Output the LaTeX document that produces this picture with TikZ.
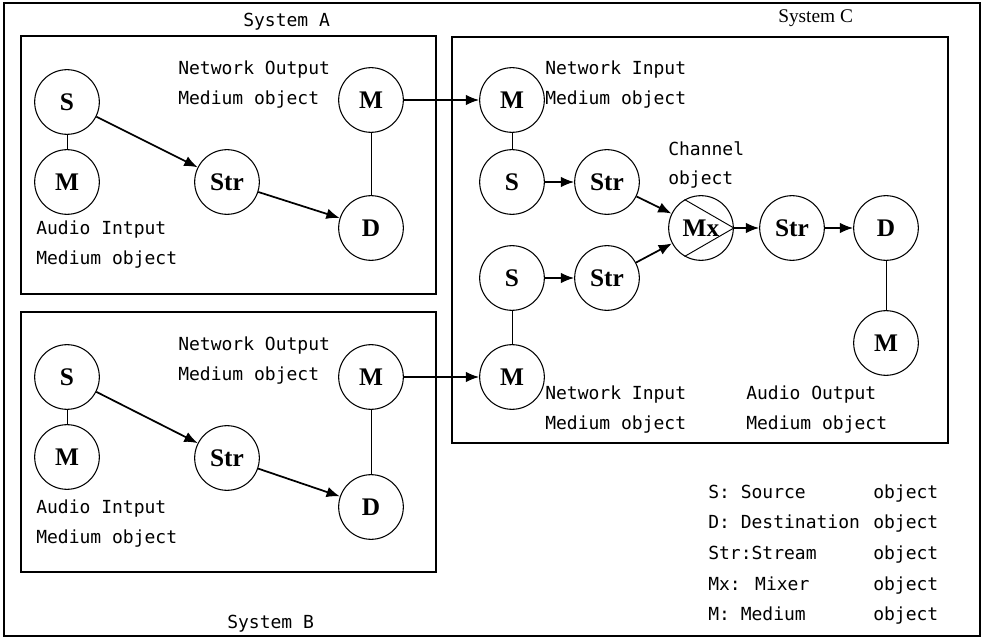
\documentclass[tikz,border=0pt]{standalone}
\usepackage{fontspec}
\setmainfont{Liberation Serif}
\newfontfamily\labelfont{DejaVu Sans Mono}
\usetikzlibrary{arrows.meta}

\begin{document}
\begin{tikzpicture}[x=0.75pt,y=-0.75pt,
  obj/.style={circle,draw,line width=0.8pt,minimum size=48.5pt,inner sep=0pt,
    font=\fontsize{19}{19}\selectfont\bfseries},
  flow/.style={line width=1.3pt,-{Latex[length=10pt,width=8pt]}},
  link/.style={line width=0.7pt},
  frame/.style={draw,line width=0.8pt},
  lbl/.style={anchor=base west,inner sep=0pt,
    font=\labelfont\fontsize{13.5}{13.5}\selectfont},
]
\useasboundingbox (0,0) rectangle (983,638);

% outer frame and the three system boxes
\draw[frame] (4,3) rectangle (980,636);
\draw[frame] (21,36) rectangle (436,294);
\draw[frame] (21,312) rectangle (436,572);
\draw[frame] (452,37) rectangle (948,443);

\node[lbl] (tA) at (243,27) {System A};
\node[lbl] (tB) at (227,628) {System B};
\node[anchor=base west,inner sep=0pt,font=\fontsize{14.5}{14.5}\selectfont] (tC) at (778,23) {System C};

% ---- System A
\node[obj] (aS) at (67,102) {S};
\node[obj] (aM) at (67,182) {M};
\node[obj] (aStr) at (227,182) {Str};
\node[obj] (aD) at (371,228) {D};
\node[obj] (aN) at (371,100) {M};
\draw[link] (aS) -- (aM);
\draw[link] (aN) -- (aD);
\draw[flow] (aS) -- (aStr);
\draw[flow] (aStr) -- (aD);
\node[lbl] (aT1) at (178,75) {Network Output};
\node[lbl] (aT2) at (178,105) {Medium object};
\node[lbl] (aT3) at (36,235) {Audio Intput};
\node[lbl] (aT4) at (36,265) {Medium object};

% ---- System B
\node[obj] (bS) at (67,377) {S};
\node[obj] (bM) at (67,457) {M};
\node[obj] (bStr) at (227,458) {Str};
\node[obj] (bD) at (371,507) {D};
\node[obj] (bN) at (371,377) {M};
\draw[link] (bS) -- (bM);
\draw[link] (bN) -- (bD);
\draw[flow] (bS) -- (bStr);
\draw[flow] (bStr) -- (bD);
\node[lbl] (bT1) at (178,350) {Network Output};
\node[lbl] (bT2) at (178,380) {Medium object};
\node[lbl] (bT3) at (36,513) {Audio Intput};
\node[lbl] (bT4) at (36,543) {Medium object};

% ---- System C
\node[obj] (cN1) at (512,100) {M};
\node[obj] (cS1) at (512,182) {S};
\node[obj] (cStr1) at (607,182) {Str};
\node[obj] (cS2) at (512,278) {S};
\node[obj] (cStr2) at (607,278) {Str};
\node[obj] (cN2) at (512,377) {M};
\node[obj] (cMx) at (701,228) {Mx};
\node[obj] (cStr3) at (792,228) {Str};
\node[obj] (cD) at (886,228) {D};
\node[obj] (cMo) at (886,343) {M};
\draw[link] (cMx.120) -- (cMx.0) -- (cMx.-120);
\draw[link] (cN1) -- (cS1);
\draw[link] (cS2) -- (cN2);
\draw[link] (cD) -- (cMo);
\draw[flow] (cS1) -- (cStr1);
\draw[flow] (cS2) -- (cStr2);
\draw[flow] (cStr1) -- (cMx);
\draw[flow] (cStr2) -- (cMx);
\draw[flow] (cMx) -- (cStr3);
\draw[flow] (cStr3) -- (cD);
\node[lbl] (cT1) at (545,75) {Network Input};
\node[lbl] (cT2) at (545,105) {Medium object};
\node[lbl] (cT3) at (668,156) {Channel};
\node[lbl] (cT4) at (668,185) {object};
\node[lbl] (cT5) at (545,399) {Network Input};
\node[lbl] (cT6) at (545,429) {Medium object};
\node[lbl] (cT7) at (746,399) {Audio Output};
\node[lbl] (cT8) at (746,429) {Medium object};

% network links between systems
\draw[flow] (aN) -- (cN1);
\draw[flow] (bN) -- (cN2);

% ---- legend
\node[lbl] (k1) at (708,498) {S: Source};
\node[lbl] (k2) at (708,528) {D: Destination};
\node[lbl] (k3) at (708,559) {Str:Stream};
\node[lbl] (k4) at (708,590) {Mx: Mixer};
\node[lbl] (k5) at (708,620) {M: Medium};
\foreach \y/\n in {498/o1,528/o2,559/o3,590/o4,620/o5}
  \node[lbl] (\n) at (873,\y) {object};
\end{tikzpicture}
\end{document}
